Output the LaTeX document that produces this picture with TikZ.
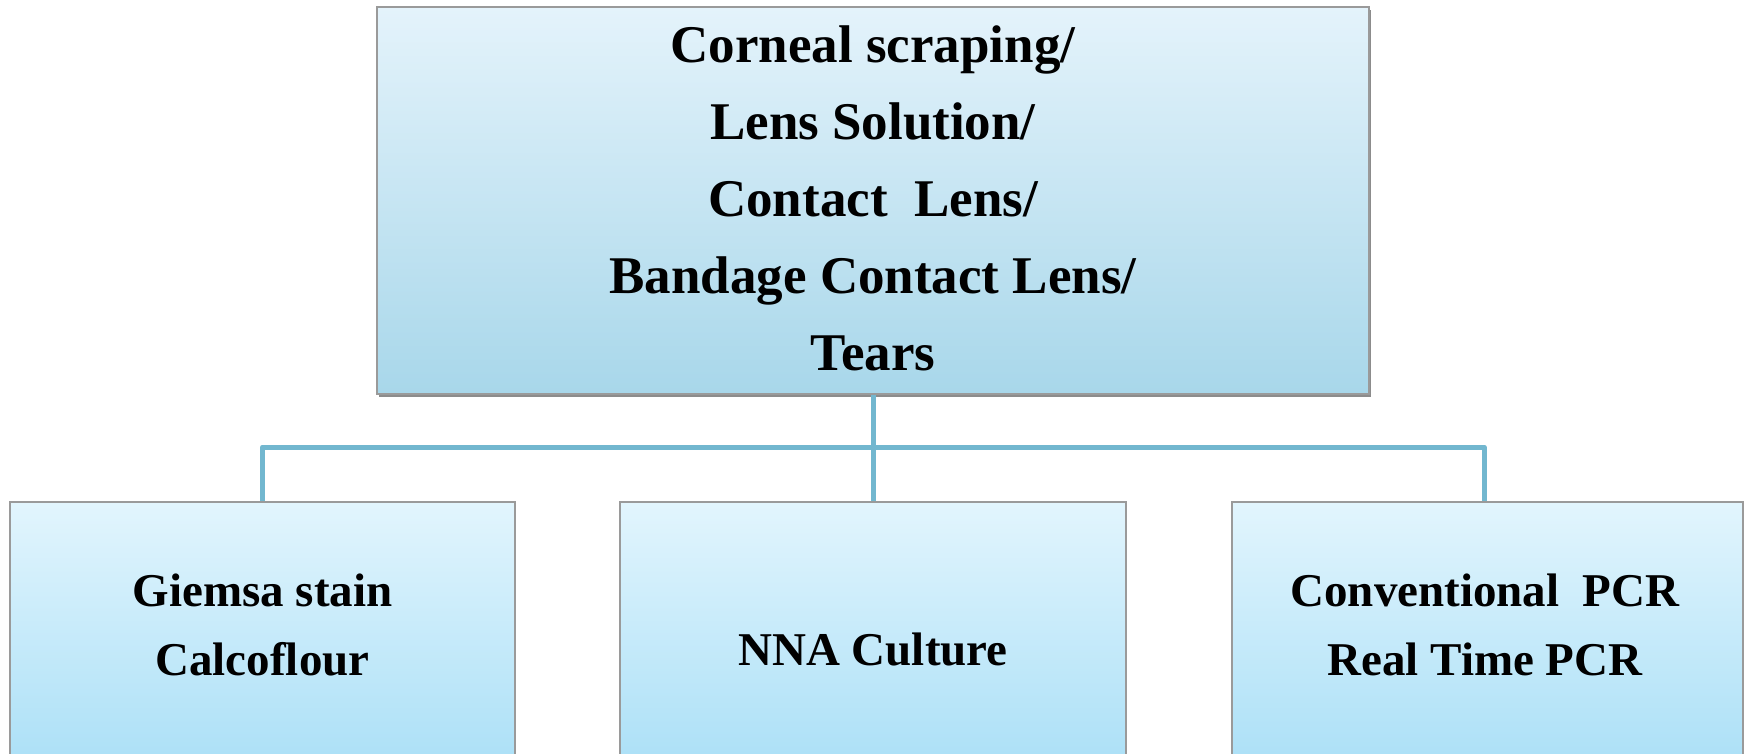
\documentclass[tikz,border=0pt]{standalone}
\usepackage{fontspec}
\setmainfont{Liberation Serif}
\usetikzlibrary{shadows}
\definecolor{boxtop}{HTML}{E4F3FB}
\definecolor{boxbot}{HTML}{A8D7EA}
\definecolor{ltop}{HTML}{E2F5FD}
\definecolor{lbot}{HTML}{A4DDF6}
\definecolor{conn}{HTML}{72B7CF}
\definecolor{edgegray}{HTML}{9A9A9A}
\begin{document}
\begin{tikzpicture}[x=1pt,y=-1pt,
  topbox/.style={draw=edgegray, line width=1.5pt, top color=boxtop, bottom color=boxbot,
    minimum width=992pt, minimum height=387pt, inner sep=0pt,
    drop shadow={shadow xshift=2pt, shadow yshift=-2.5pt, fill=black, opacity=0.45}},
  leafbox/.style={draw=edgegray, line width=1.5pt, top color=ltop, bottom color=lbot,
    minimum width=505pt, minimum height=300pt, inner sep=0pt, anchor=north},
  toptext/.style={font=\fontsize{53}{77}\selectfont\bfseries, align=center},
  leaftext/.style={font=\fontsize{47}{69}\selectfont\bfseries, align=center},
  link/.style={draw=conn, line width=5pt, line join=round}]
\useasboundingbox[fill=white] (0,0) rectangle (1745,753);

\node[topbox] (src) at (873,200.5) {};
\node[toptext] (srctext) at (873,198) {Corneal scraping/\\Lens Solution/\\Contact\ \ Lens/\\Bandage Contact Lens/\\Tears};

\node[leafbox] (stain) at (262.5,501) {};
\node[leafbox, minimum width=506pt] (culture) at (873,501) {};
\node[leafbox, minimum width=511pt] (pcr) at (1487.5,501) {};

\node[leaftext] (staintext) at (262.5,625) {Giemsa stain\\Calcoflour};
\node[leaftext] (culturetext) at (873,649) {NNA Culture};
\node[leaftext] (pcrtext) at (1485,625) {Conventional\ \ PCR\\Real Time PCR};

\coordinate (junction) at (873,447);
\draw[link] (src.south) -- (junction);
\draw[link] (junction) -| (stain.north);
\draw[link] (junction) -- (culture.north);
\draw[link] (junction) -| ([xshift=-3.5pt]pcr.north);
\end{tikzpicture}
\end{document}
